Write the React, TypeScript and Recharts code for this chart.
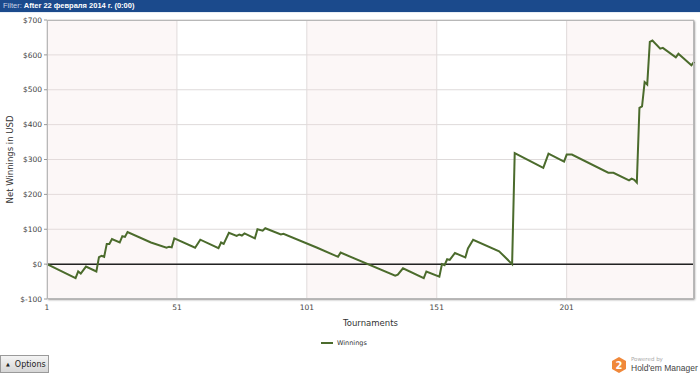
import React from "react"
import { LineChart, Line, XAxis, YAxis, CartesianGrid, ReferenceArea, ReferenceLine } from "recharts"

// vertices of the cumulative winnings line
const tournaments = [
  1, 12, 13, 14, 16, 20, 21, 22, 23, 24, 25, 26, 29, 30, 31, 32, 41, 47, 48, 49, 50,
  58, 60, 67, 68, 69, 71, 74, 75, 76, 77, 81, 82, 84, 85, 91, 92, 105, 113, 114,
  135, 136, 138, 146, 147, 152, 153, 154, 155, 156, 158, 162, 163, 165, 175, 180,
  181, 192, 194, 200, 201, 203, 217, 219, 225, 226, 227, 228, 229, 230, 231, 232,
  233, 234, 237, 238, 243, 244, 249, 250,
]
const winnings = [
  0, -40, -21, -27, -7, -21, 20, 24, 21, 58, 58, 72, 62, 80, 78, 92, 62, 47, 50, 48, 74,
  47, 70, 46, 62, 58, 90, 81, 85, 82, 88, 74, 100, 96, 103, 85, 87, 47, 21, 33,
  -33, -30, -12, -40, -21, -36, 0, -3, 14, 12, 32, 19, 45, 70, 37, 0,
  318, 276, 317, 294, 314, 314, 262, 262, 240, 245, 242, 234, 448, 452, 522, 515,
  637, 641, 618, 620, 593, 603, 570, 580,
]

const xTicks = [1, 51, 101, 151, 201]
const yTicks = [-100, 0, 100, 200, 300, 400, 500, 600, 700]
const bands = [
  [1, 51],
  [101, 151],
  [201, 250],
]

const data = tournaments.map((t, i) => ({ t, winnings: winnings[i] }))

const fmtUsd = (v: number) => (v < 0 ? `$-${Math.abs(v)}` : `$${v}`)

export default function App() {
  return (
    <div
      style={{
        position: "absolute",
        left: 0,
        top: 0,
        width: 700,
        height: 374,
        background: "#fff",
        overflow: "hidden",
        fontFamily: "'DejaVu Sans', sans-serif",
      }}
    >
      <div style={{ position: "absolute", left: 0, top: 0 }}>
        <LineChart width={700} height={374} data={data} margin={{ top: 20, right: 6, bottom: 45, left: 0 }}>
          {bands.map(([a, b]) => (
            <ReferenceArea key={a} x1={a} x2={b} fill="#f3dede" fillOpacity={0.25} stroke="none" />
          ))}
          <CartesianGrid stroke="#dedada" strokeWidth={1} />
          <XAxis
            dataKey="t"
            type="number"
            domain={[1, 250]}
            ticks={xTicks}
            axisLine={false}
            tickLine={false}
            height={30}
            tick={{ fontSize: 7.5, fill: "#444" }}
            tickMargin={0}
            label={{ value: "Tournaments", position: "insideBottom", offset: 3, fontSize: 8.5, fill: "#333" }}
          />
          <YAxis
            type="number"
            domain={[-100, 700]}
            ticks={yTicks}
            width={47}
            axisLine={false}
            tickLine={{ stroke: "#999" }}
            tickSize={3}
            tickFormatter={fmtUsd}
            tick={{ fontSize: 7.5, fill: "#444" }}
            label={{
              value: "Net Winnings in USD",
              angle: -90,
              position: "insideLeft",
              offset: 10,
              fontSize: 8.5,
              fill: "#333",
              style: { textAnchor: "middle" },
            }}
          />
          <ReferenceLine y={0} stroke="#222" strokeWidth={1.5} />
          <Line
            type="linear"
            dataKey="winnings"
            stroke="#4b6b2c"
            strokeWidth={2}
            dot={false}
            isAnimationActive={false}
          />
        </LineChart>
      </div>

      {/* plot frame */}
      <div
        style={{
          position: "absolute",
          left: 47,
          top: 20,
          width: 647,
          height: 279,
          boxSizing: "border-box",
          border: "1px solid #b8b8b8",
          boxShadow: "1px 1px 2px rgba(0,0,0,0.35)",
          pointerEvents: "none",
        }}
      />

      {/* filter header */}
      <div
        style={{
          position: "absolute",
          left: 0,
          top: 0,
          width: 700,
          height: 12,
          background: "#1b4a8c",
          borderBottom: "1px solid #e8eef6",
          color: "#fff",
          fontFamily: "'Liberation Sans', sans-serif",
          fontSize: 7.5,
          lineHeight: "12px",
          paddingLeft: 3,
          whiteSpace: "nowrap",
        }}
      >
        <span style={{ color: "#c9d5e8" }}>Filter: </span>
        <span style={{ fontWeight: "bold" }}>After 22 февраля 2014 г. (0:00)</span>
      </div>

      {/* legend */}
      <div
        style={{
          position: "absolute",
          left: 321,
          top: 339,
          display: "flex",
          alignItems: "center",
          fontSize: 6.5,
          color: "#333",
        }}
      >
        <span style={{ display: "inline-block", width: 12, height: 2.5, background: "#4b6b2c", marginRight: 4 }} />
        Winnings
      </div>

      {/* options button */}
      <div
        style={{
          position: "absolute",
          left: 0,
          top: 355,
          width: 49,
          height: 18,
          boxSizing: "border-box",
          border: "1px solid #9a9a9a",
          background: "linear-gradient(#f4f4f4, #d6d6d6)",
          fontSize: 8,
          color: "#222",
          lineHeight: "16px",
          whiteSpace: "nowrap",
        }}
      >
        <span style={{ fontSize: 5, marginLeft: 5, marginRight: 5, verticalAlign: "1px" }}>▲</span>
        Options
      </div>

      {/* powered by logo */}
      <div style={{ position: "absolute", left: 611, top: 356, width: 89, height: 18 }}>
        <svg width={16} height={17} style={{ position: "absolute", left: 0, top: 1 }}>
          <polygon points="8,0 15,4 15,12 8,16 1,12 1,4" fill="#f0883a" />
          <text x={8} y={12} textAnchor="middle" fontSize={10} fontWeight="bold" fill="#fff" fontFamily="'DejaVu Sans', sans-serif">
            2
          </text>
        </svg>
        <div style={{ position: "absolute", left: 20, top: 0, fontSize: 5.5, color: "#aaa", whiteSpace: "nowrap" }}>
          Powered by
        </div>
        <div
          style={{
            position: "absolute",
            left: 20,
            top: 7,
            fontFamily: "'Liberation Sans', sans-serif",
            fontSize: 8.5,
            color: "#444",
            whiteSpace: "nowrap",
          }}
        >
          Hold'em Manager
        </div>
      </div>
    </div>
  )
}
